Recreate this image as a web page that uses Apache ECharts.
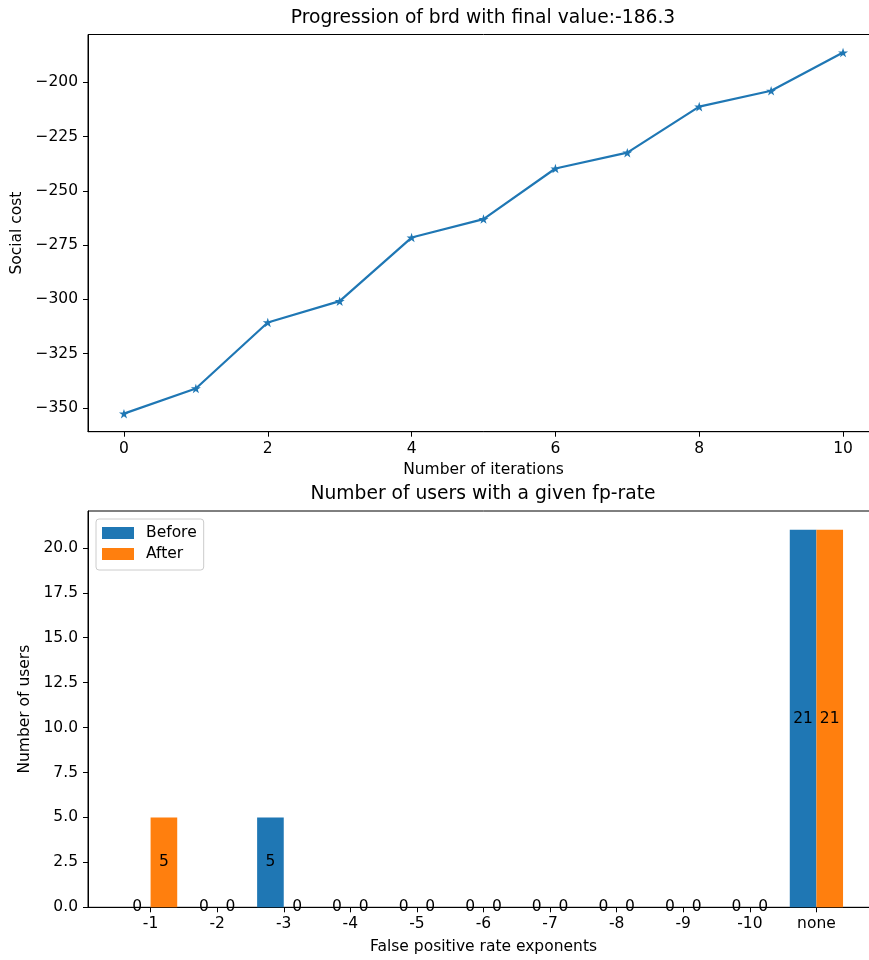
<!DOCTYPE html>
<html>
<head>
<meta charset="utf-8">
<script src="https://cdn.jsdelivr.net/npm/echarts@6/dist/echarts.min.js"></script>
<style>
  html, body { margin: 0; padding: 0; overflow: hidden; background: #fff; }
  #chart { width: 880px; height: 960px; }
</style>
</head>
<body>
<div id="chart"></div>
<script>
// Social cost per iteration
const iterations = [0, 1, 2, 3, 4, 5, 6, 7, 8, 9, 10];
const socialCost = [-352.6, -341.0, -310.6, -300.8, -271.5, -263.0, -239.7, -232.4, -211.2, -203.9, -186.3];
const costTicks = [-350, -325, -300, -275, -250, -225, -200];
const iterTicks = [0, 2, 4, 6, 8, 10];

// Users per false-positive-rate exponent
const fpCategories = ['-1', '-2', '-3', '-4', '-5', '-6', '-7', '-8', '-9', '-10', 'none'];
const usersBefore = [0, 0, 5, 0, 0, 0, 0, 0, 0, 0, 21];
const usersAfter = [5, 0, 0, 0, 0, 0, 0, 0, 0, 0, 21];
const userTicks = [0, 2.5, 5, 7.5, 10, 12.5, 15, 17.5, 20];

const FONT = 'DejaVu Sans';
const BLUE = '#1f77b4';
const ORANGE = '#ff7f0e';
const STAR = 'path://M50 0 L61.23 34.55 L97.55 34.55 L68.17 55.9 L79.39 90.45 L50 69.1 L20.61 90.45 L31.83 55.9 L2.45 34.55 L38.77 34.55 Z';

// axis ranges with a 5% margin around the data
const cMin = Math.min(...socialCost), cMax = Math.max(...socialCost);
const cPad = (cMax - cMin) * 0.05;
const iPad = (iterations[iterations.length - 1] - iterations[0]) * 0.05;
const barHalf = 0.4;
const bLo = -barHalf, bHi = fpCategories.length - 1 + barHalf;
const bPad = (bHi - bLo) * 0.05;
const uMax = Math.max(...usersBefore, ...usersAfter) * 1.05;

const axisLine = { show: true, onZero: false, lineStyle: { color: '#000', width: 1 } };
const axisTick = { show: true, length: 5, lineStyle: { color: '#000', width: 1 } };
const tickFont = { color: '#000', fontFamily: FONT, fontSize: 15.5 };
const nameFont = { color: '#000', fontFamily: FONT, fontSize: 15.5 };
const barLabel = {
  show: true, position: 'inside', color: '#000', fontFamily: FONT, fontSize: 15.5,
  formatter: p => String(p.value[1])
};

const chart = echarts.init(document.getElementById('chart'), null, { renderer: 'canvas' });

chart.setOption({
  animation: false,
  backgroundColor: '#fff',
  title: [
    {
      text: 'Progression of brd with final value:-186.3',
      left: 483, top: 9, padding: 0, textAlign: 'center',
      textStyle: { fontFamily: FONT, fontSize: 18.7, fontWeight: 'normal', color: '#000' }
    },
    {
      text: 'Number of users with a given fp-rate',
      left: 483, top: 485, padding: 0, textAlign: 'center',
      textStyle: { fontFamily: FONT, fontSize: 18.7, fontWeight: 'normal', color: '#000' }
    }
  ],
  legend: {
    data: ['Before', 'After'],
    orient: 'vertical',
    left: 96, top: 519,
    padding: [6, 7, 8, 6],
    itemWidth: 32, itemHeight: 12, itemGap: 5,
    icon: 'rect',
    backgroundColor: 'rgba(255,255,255,0.8)',
    borderColor: '#ccc', borderWidth: 1, borderRadius: 3,
    itemStyle: { borderWidth: 0 },
    textStyle: { fontFamily: FONT, fontSize: 15.5, color: '#000', padding: [0, 0, 0, 7] }
  },
  grid: [
    { left: 88, top: 34.5, width: 791, height: 397.2, show: true, borderColor: '#000', borderWidth: 1, containLabel: false },
    { left: 88, top: 511, width: 791, height: 396.3, show: true, borderColor: '#000', borderWidth: 1, containLabel: false }
  ],
  xAxis: [
    {
      gridIndex: 0, type: 'value',
      min: iterations[0] - iPad, max: iterations[iterations.length - 1] + iPad,
      name: 'Number of iterations', nameLocation: 'middle', nameGap: 30, nameTextStyle: nameFont,
      axisLine, axisTick: Object.assign({ customValues: iterTicks }, axisTick),
      axisLabel: Object.assign({ customValues: iterTicks, margin: 9 }, tickFont),
      splitLine: { show: false }
    },
    {
      gridIndex: 1, type: 'value',
      min: bLo - bPad, max: bHi + bPad,
      name: 'False positive rate exponents', nameLocation: 'middle', nameGap: 32, nameTextStyle: nameFont,
      axisLine, axisTick: Object.assign({ customValues: fpCategories.map((c, i) => i) }, axisTick),
      axisLabel: Object.assign({
        customValues: fpCategories.map((c, i) => i), margin: 9,
        formatter: v => fpCategories[Math.round(v)]
      }, tickFont),
      splitLine: { show: false }
    }
  ],
  yAxis: [
    {
      gridIndex: 0, type: 'value',
      min: cMin - cPad, max: cMax + cPad,
      name: 'Social cost', nameLocation: 'middle', nameGap: 58, nameTextStyle: nameFont,
      axisLine, axisTick: Object.assign({ customValues: costTicks }, axisTick),
      axisLabel: Object.assign({
        customValues: costTicks, margin: 10,
        formatter: v => String(v).replace('-', '\u2212')
      }, tickFont),
      splitLine: { show: false }
    },
    {
      gridIndex: 1, type: 'value',
      min: 0, max: uMax,
      name: 'Number of users', nameLocation: 'middle', nameGap: 49, nameTextStyle: nameFont,
      axisLine, axisTick: Object.assign({ customValues: userTicks }, axisTick),
      axisLabel: Object.assign({
        customValues: userTicks, margin: 10,
        formatter: v => v.toFixed(1)
      }, tickFont),
      splitLine: { show: false }
    }
  ],
  series: [
    {
      type: 'line', xAxisIndex: 0, yAxisIndex: 0,
      data: iterations.map((it, i) => [it, socialCost[i]]),
      lineStyle: { color: BLUE, width: 2.2 },
      itemStyle: { color: BLUE },
      symbol: STAR, symbolSize: 10, symbolKeepAspect: true, showSymbol: true
    },
    {
      name: 'Before', type: 'bar', xAxisIndex: 1, yAxisIndex: 1,
      data: fpCategories.map((c, i) => [i, usersBefore[i]]),
      itemStyle: { color: BLUE, borderWidth: 0 },
      barGap: '0%', barCategoryGap: '20%',
      label: barLabel
    },
    {
      name: 'After', type: 'bar', xAxisIndex: 1, yAxisIndex: 1,
      data: fpCategories.map((c, i) => [i, usersAfter[i]]),
      itemStyle: { color: ORANGE, borderWidth: 0 },
      barGap: '0%', barCategoryGap: '20%',
      label: barLabel
    }
  ]
});
</script>
</body>
</html>
